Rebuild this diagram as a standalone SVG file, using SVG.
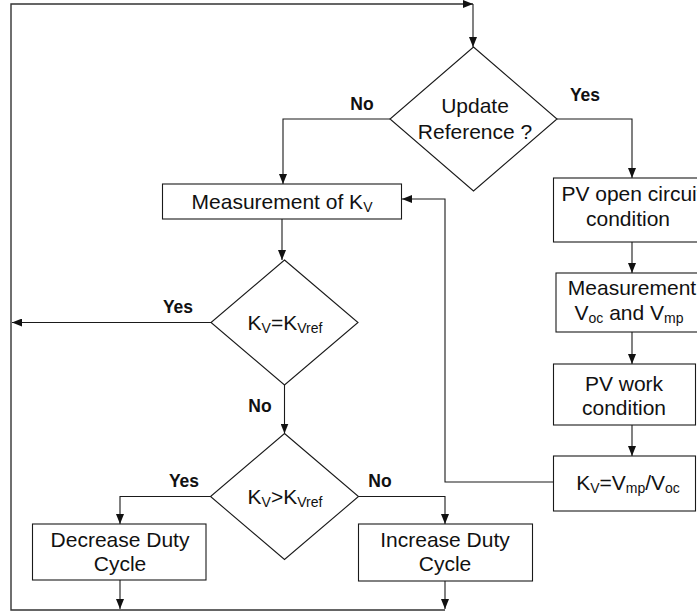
<svg xmlns="http://www.w3.org/2000/svg" width="697" height="613" viewBox="0 0 697 613">
  <style>
    .shape { fill: #ffffff; stroke: #1a1a1a; stroke-width: 1.1; }
    .wire { fill: none; stroke: #1a1a1a; stroke-width: 1.1; }
    .loop { fill: none; stroke: #333333; stroke-width: 1.4; }
    .t { font-family: "Liberation Sans", Arial, sans-serif; font-size: 21px; fill: #111111; text-anchor: middle; }
    .lbl { font-family: "Liberation Sans", Arial, sans-serif; font-size: 17.5px; font-weight: bold; fill: #111111; text-anchor: middle; }
    .sub { font-size: 14px; }
  </style>
  <defs>
    <marker id="arrow" markerUnits="userSpaceOnUse" markerWidth="10" markerHeight="8" refX="10" refY="4" orient="auto">
      <path d="M0,0 L10,4 L0,8 z" fill="#111111"/>
    </marker>
  </defs>

  <!-- connectors -->
  <g id="connectors">
    <!-- outer feedback loop -->
    <path class="loop" d="M445,610 H11 V4 H473" marker-end="url(#arrow)"/>
    <path class="wire" d="M473,4 V47" marker-end="url(#arrow)"/>
    <!-- Update Reference ? branches -->
    <path class="wire" d="M390,119 H283 V184" marker-end="url(#arrow)"/>
    <path class="wire" d="M557,119 H632 V178" marker-end="url(#arrow)"/>
    <!-- left column -->
    <path class="wire" d="M282,219 V260" marker-end="url(#arrow)"/>
    <path class="wire" d="M211,322.5 H12" marker-end="url(#arrow)"/>
    <path class="wire" d="M284.5,385 V433.5" marker-end="url(#arrow)"/>
    <path class="wire" d="M210.5,496.5 H120 V524" marker-end="url(#arrow)"/>
    <path class="wire" d="M358.5,496.5 H445 V524" marker-end="url(#arrow)"/>
    <path class="wire" d="M120,580 V609" marker-end="url(#arrow)"/>
    <path class="wire" d="M445,581 V609" marker-end="url(#arrow)"/>
    <!-- right column -->
    <path class="wire" d="M632,242 V273" marker-end="url(#arrow)"/>
    <path class="wire" d="M632,332 V364" marker-end="url(#arrow)"/>
    <path class="wire" d="M632,425 V456" marker-end="url(#arrow)"/>
    <path class="wire" d="M553,482 H445 V199 H402" marker-end="url(#arrow)"/>
  </g>

  <!-- branch labels -->
  <g id="labels">
    <text class="lbl" x="362" y="110">No</text>
    <text class="lbl" x="585" y="101">Yes</text>
    <text class="lbl" x="178" y="313">Yes</text>
    <text class="lbl" x="260" y="412">No</text>
    <text class="lbl" x="184" y="487">Yes</text>
    <text class="lbl" x="380" y="487">No</text>
  </g>

  <g id="update-reference">
    <polygon class="shape" points="473.5,47 557,119 473.5,191 390,119"/>
    <text class="t" x="475" y="113">Update</text>
    <text class="t" x="475" y="139">Reference ?</text>
  </g>

  <g id="measure-kv">
    <rect class="shape" x="162.5" y="184" width="239" height="35"/>
    <text class="t" x="282" y="208.5">Measurement of K<tspan class="sub" dy="3">V</tspan></text>
  </g>

  <g id="kv-equal">
    <polygon class="shape" points="284.5,260 358,322.5 284.5,385 211,322.5"/>
    <text class="t" x="285" y="330">K<tspan class="sub" dy="3">V</tspan><tspan dy="-3">=K</tspan><tspan class="sub" dy="3">Vref</tspan></text>
  </g>

  <g id="kv-greater">
    <polygon class="shape" points="284.5,433.5 358.5,496.5 284.5,559.5 210.5,496.5"/>
    <text class="t" x="285" y="504">K<tspan class="sub" dy="3">V</tspan><tspan dy="-3">&gt;K</tspan><tspan class="sub" dy="3">Vref</tspan></text>
  </g>

  <g id="decrease-duty">
    <rect class="shape" x="32.5" y="524" width="173.5" height="56"/>
    <text class="t" x="120" y="547">Decrease Duty</text>
    <text class="t" x="120" y="571">Cycle</text>
  </g>

  <g id="increase-duty">
    <rect class="shape" x="358.5" y="524" width="174" height="57"/>
    <text class="t" x="445" y="547">Increase Duty</text>
    <text class="t" x="445" y="571">Cycle</text>
  </g>

  <g id="pv-open-circuit">
    <rect class="shape" x="553.5" y="178" width="158" height="64"/>
    <text class="t" x="632" y="201">PV open circuit</text>
    <text class="t" x="628" y="226">condition</text>
  </g>

  <g id="measure-voc-vmp">
    <rect class="shape" x="556" y="273" width="152" height="59"/>
    <text class="t" x="632" y="295">Measurement</text>
    <text class="t" x="629" y="320">V<tspan class="sub" dy="3">oc</tspan><tspan dy="-3"> and V</tspan><tspan class="sub" dy="3">mp</tspan></text>
  </g>

  <g id="pv-work">
    <rect class="shape" x="553.5" y="364" width="142" height="61"/>
    <text class="t" x="624" y="391">PV work</text>
    <text class="t" x="624" y="415">condition</text>
  </g>

  <g id="kv-ratio">
    <rect class="shape" x="553.5" y="456" width="142" height="55"/>
    <text class="t" x="628" y="490">K<tspan class="sub" dy="3">V</tspan><tspan dy="-3">=V</tspan><tspan class="sub" dy="3">mp</tspan><tspan dy="-3">/V</tspan><tspan class="sub" dy="3">oc</tspan></text>
  </g>
</svg>
